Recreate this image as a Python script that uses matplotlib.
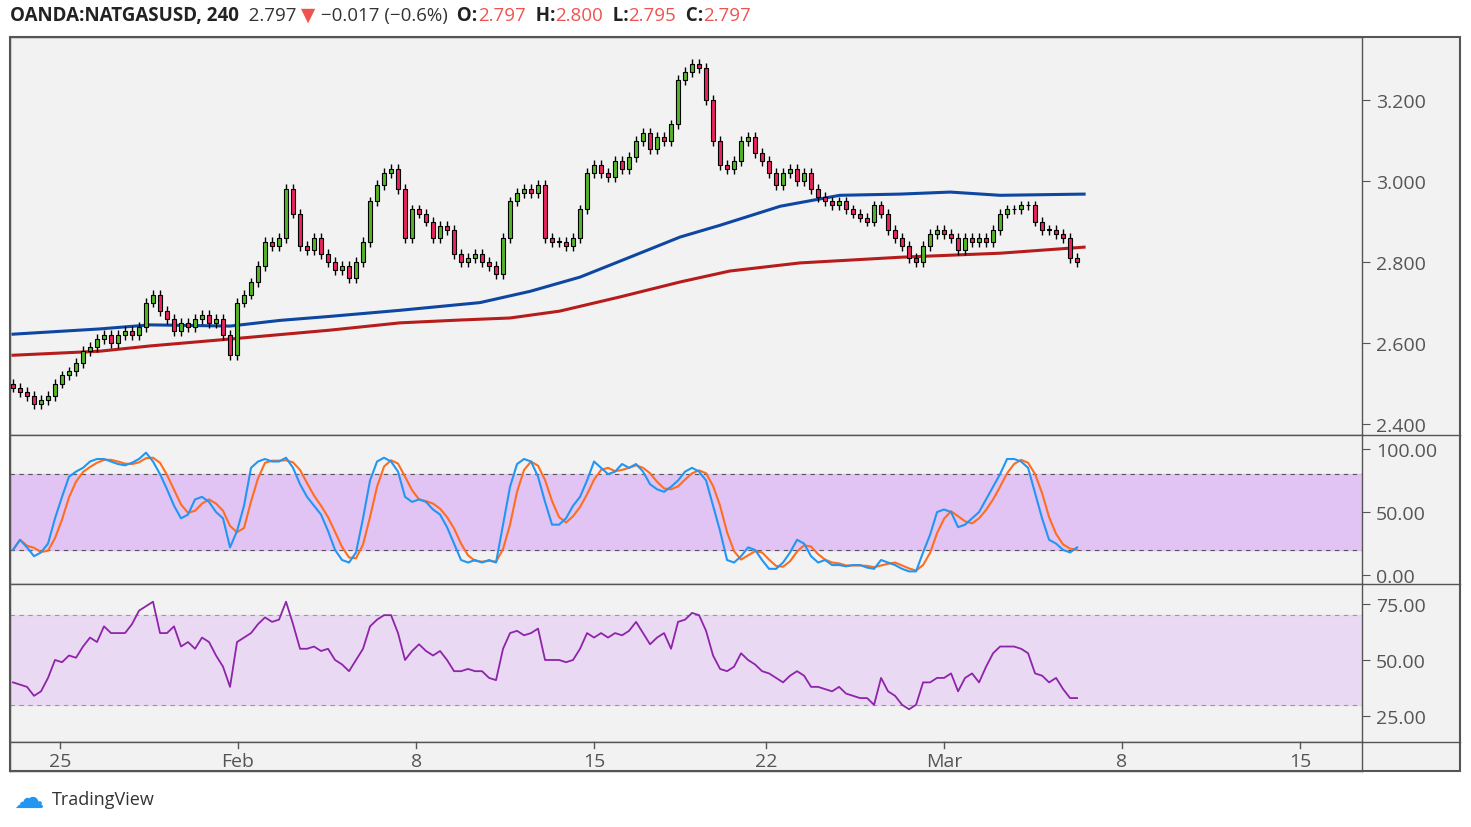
import numpy as np
import matplotlib.pyplot as plt
from matplotlib.patches import Rectangle

plt.rcParams['font.family'] = ['Open Sans', 'DejaVu Sans']

# 4h closes, one per candle
closes = [
    2.49, 2.48, 2.47, 2.45, 2.46, 2.47, 2.50, 2.52, 2.53, 2.55,
    2.58, 2.59, 2.61, 2.62, 2.60, 2.62, 2.63, 2.62, 2.64, 2.70,
    2.72, 2.68, 2.66, 2.63, 2.65, 2.64, 2.66, 2.67, 2.65, 2.66,
    2.62, 2.57, 2.70, 2.72, 2.75, 2.79, 2.85, 2.84, 2.86, 2.98,
    2.92, 2.84, 2.83, 2.86, 2.82, 2.80, 2.78, 2.79, 2.76, 2.80,
    2.85, 2.95, 2.99, 3.02, 3.03, 2.98, 2.86, 2.93, 2.92, 2.90,
    2.86, 2.89, 2.88, 2.82, 2.80, 2.81, 2.82, 2.80, 2.79, 2.77,
    2.86, 2.95, 2.97, 2.98, 2.97, 2.99, 2.86, 2.85, 2.85, 2.84,
    2.86, 2.93, 3.02, 3.04, 3.02, 3.01, 3.05, 3.03, 3.06, 3.10,
    3.12, 3.08, 3.11, 3.10, 3.14, 3.25, 3.27, 3.29, 3.28, 3.20,
    3.10, 3.04, 3.03, 3.05, 3.10, 3.11, 3.07, 3.05, 3.02, 2.99,
    3.02, 3.03, 3.00, 3.02, 2.98, 2.96, 2.95, 2.94, 2.95, 2.93,
    2.92, 2.91, 2.90, 2.94, 2.92, 2.88, 2.86, 2.84, 2.81, 2.80,
    2.84, 2.87, 2.88, 2.87, 2.86, 2.83, 2.86, 2.85, 2.86, 2.85,
    2.88, 2.92, 2.93, 2.93, 2.94, 2.94, 2.90, 2.88, 2.88, 2.87,
    2.86, 2.81, 2.80,
]
first_open = 2.50
wick = 0.012

stoch_k = [
    20, 28, 22, 15, 18, 25, 45, 62, 78, 82,
    85, 90, 92, 92, 90, 88, 87, 89, 92, 97,
    90, 80, 68, 55, 45, 48, 60, 62, 58, 50,
    45, 22, 35, 55, 85, 90, 92, 90, 90, 93,
    85, 72, 62, 55, 48, 35, 20, 12, 10, 18,
    45, 75, 90, 93, 90, 82, 62, 58, 60, 58,
    52, 48, 38, 25, 12, 10, 12, 10, 12, 10,
    40, 70, 88, 92, 90, 78, 58, 40, 40, 45,
    55, 62, 75, 90, 85, 80, 82, 88, 85, 88,
    82, 72, 68, 66, 70, 75, 82, 85, 82, 75,
    55, 35, 12, 10, 15, 22, 20, 12, 5, 5,
    10, 18, 28, 25, 15, 10, 12, 8, 8, 7,
    8, 8, 6, 5, 12, 10, 8, 5, 3, 3,
    18, 32, 50, 52, 50, 38, 40, 45, 50, 60,
    70, 80, 92, 92, 90, 85, 65, 45, 28, 25,
    20, 18, 22,
]

rsi = [
    40, 39, 38, 34, 36, 42, 50, 49, 52, 51,
    56, 60, 58, 65, 62, 62, 62, 66, 72, 74,
    76, 62, 62, 65, 56, 58, 55, 60, 58, 52,
    47, 38, 58, 60, 62, 66, 69, 67, 68, 76,
    66, 55, 55, 56, 54, 55, 50, 48, 45, 50,
    55, 65, 68, 70, 70, 62, 50, 54, 57, 54,
    52, 54, 50, 45, 45, 46, 45, 45, 42, 41,
    55, 62, 63, 61, 62, 64, 50, 50, 50, 49,
    50, 55, 62, 60, 62, 60, 62, 61, 63, 67,
    62, 57, 60, 62, 55, 67, 68, 71, 70, 63,
    52, 46, 45, 47, 53, 50, 48, 45, 44, 42,
    40, 43, 45, 43, 38, 38, 37, 36, 38, 35,
    34, 33, 33, 30, 42, 36, 34, 30, 28, 30,
    40, 40, 42, 42, 44, 36, 42, 44, 40, 47,
    53, 56, 56, 56, 55, 53, 44, 43, 40, 42,
    37, 33, 33,
]

# moving averages read at candle indices
ma_blue_idx = [0, 12.4, 19.6, 31, 38.1, 45.3, 55.3, 66.7, 73.9, 81, 88.1, 95.3, 101, 109.6, 118.1, 126.7, 133.9, 141, 153]
ma_blue = [2.622, 2.635, 2.645, 2.642, 2.656, 2.666, 2.681, 2.70, 2.728, 2.763, 2.812, 2.862, 2.891, 2.938,
           2.965, 2.968, 2.973, 2.965, 2.968]
ma_red_idx = [0, 12.4, 19.6, 31, 45.3, 55.3, 63.9, 71, 78.1, 86.7, 95.3, 102.4, 112.4, 126.7, 141, 153]
ma_red = [2.57, 2.58, 2.593, 2.61, 2.632, 2.65, 2.657, 2.662, 2.679, 2.714, 2.751, 2.778, 2.798, 2.812,
          2.822, 2.837]

tick_pos = [6.7, 32.1, 57.6, 83.0, 107.6, 133.0, 158.4, 183.9]
tick_lab = ['25', 'Feb', '8', '15', '22', 'Mar', '8', '15']

W, H = 1471, 828
fig = plt.figure(figsize=(W / 100, H / 100), dpi=100)
bg = '#f2f2f2'


def px_axes(x0, y0, x1, y1):
    return fig.add_axes([x0 / W, 1 - y1 / H, (x1 - x0) / W, (y1 - y0) / H])


XL = (-0.43, 192.7)
ax1 = px_axes(10, 38, 1362, 436)
ax2 = px_axes(10, 436, 1362, 585)
ax3 = px_axes(10, 585, 1362, 743)
axd = px_axes(10, 743, 1362, 772)

for ax in (ax1, ax2, ax3, axd):
    ax.set_facecolor(bg)
    ax.set_xlim(*XL)
    ax.set_xticks([])
    for s in ax.spines.values():
        s.set_color('#555555')
        s.set_linewidth(1)
    ax.yaxis.tick_right()
    ax.tick_params(axis='y', colors='#555555', labelcolor='#555555', labelsize=14, length=6, pad=4)

# candles
opens = [first_open] + closes[:-1]
for i, (o, c) in enumerate(zip(opens, closes)):
    col = '#55b52a' if c >= o else '#e8245f'
    hi = max(o, c) + wick
    lo = min(o, c) - wick
    ax1.vlines(i, lo, hi, color='black', lw=1, zorder=3)
    bot = min(o, c)
    h = max(abs(c - o), 0.002)
    ax1.add_patch(Rectangle((i - 0.25, bot), 0.5, h, facecolor=col, edgecolor='black', lw=0.8, zorder=4))
ax1.plot(ma_blue_idx, ma_blue, color='#0d47a1', lw=2.2, zorder=2)
ax1.plot(ma_red_idx, ma_red, color='#b71c1c', lw=2.2, zorder=2)
ax1.set_ylim(2.373, 3.356)
ax1.set_yticks([2.4, 2.6, 2.8, 3.0, 3.2])
ax1.set_yticklabels(['2.400', '2.600', '2.800', '3.000', '3.200'])

# stochastic
k = np.array(stoch_k, dtype=float)
d = np.convolve(k, np.ones(3) / 3, mode='full')[:len(k)]
d[:2] = k[:2]
x = np.arange(len(k))
ax2.axhspan(20, 80, color='#e1c4f3', zorder=0)
ax2.axhline(80, color='#555555', ls=(0, (4, 4)), lw=0.8)
ax2.axhline(20, color='#555555', ls=(0, (4, 4)), lw=0.8)
ax2.plot(x, d, color='#ff6d1f', lw=1.5)
ax2.plot(x, k, color='#2196f3', lw=1.5)
ax2.set_ylim(-7, 111)
ax2.set_yticks([0, 50, 100])
ax2.set_yticklabels(['0.00', '50.00', '100.00'])

# rsi
ax3.axhspan(30, 70, color='#ead9f2', zorder=0)
ax3.axhline(70, color='#999999', ls=(0, (4, 4)), lw=0.8)
ax3.axhline(30, color='#999999', ls=(0, (4, 4)), lw=0.8)
ax3.plot(np.arange(len(rsi)), rsi, color='#8e24aa', lw=1.3)
ax3.set_ylim(13.4, 83.9)
ax3.set_yticks([25, 50, 75])
ax3.set_yticklabels(['25.00', '50.00', '75.00'])

# date axis
axd.set_yticks([])
axd.set_ylim(0, 1)
for p, l in zip(tick_pos, tick_lab):
    axd.plot([p, p], [0.8, 1], color='#555555', lw=1, clip_on=False)
    axd.text(p, 0.02, l, ha='center', va='bottom', fontsize=14, color='#555555')

# right-side frame
fig.patches.append(Rectangle((10 / W, 1 - 772 / H), 1450 / W, 734 / H, transform=fig.transFigure,
                             fill=False, edgecolor='#555555', lw=1.5))
fig.patches.append(Rectangle((1362 / W, 1 - 772 / H), 98 / W, 734 / H, transform=fig.transFigure,
                             facecolor=bg, edgecolor='none', zorder=-1))
fig.lines.append(plt.Line2D([1362 / W, 1460 / W], [1 - 436 / H] * 2, transform=fig.transFigure, color='#555555', lw=1))
fig.lines.append(plt.Line2D([1362 / W, 1460 / W], [1 - 585 / H] * 2, transform=fig.transFigure, color='#555555', lw=1))
fig.lines.append(plt.Line2D([1362 / W, 1460 / W], [1 - 743 / H] * 2, transform=fig.transFigure, color='#555555', lw=1))

# header
y0 = 1 - 16 / H
parts = [('OANDA:NATGASUSD, 240', '#222222', 'bold'), ('  2.797', '#333333', 'normal'),
         (' ▼', '#ef5350', 'normal'), (' −0.017 (−0.6%)', '#333333', 'normal'),
         ('  O:', '#222222', 'bold'), ('2.797', '#ef5350', 'normal'),
         ('  H:', '#222222', 'bold'), ('2.800', '#ef5350', 'normal'),
         ('  L:', '#222222', 'bold'), ('2.795', '#ef5350', 'normal'),
         ('  C:', '#222222', 'bold'), ('2.797', '#ef5350', 'normal')]
fig.canvas.draw()
xpos = 10 / W
r = fig.canvas.get_renderer()
for txt, col, wt in parts:
    t = fig.text(xpos, y0, txt, color=col, fontsize=13.5, fontweight=wt, va='center', ha='left')
    bb = t.get_window_extent(renderer=r)
    xpos += bb.width / W

fig.text(52 / W, 1 - 800 / H, 'TradingView', fontsize=13, color='#333333', va='center')
fig.text(29 / W, 1 - 800 / H, '☁', fontsize=22, color='#2196f3', va='center', ha='center')

fig.savefig('out.png', dpi=100, facecolor='white')
